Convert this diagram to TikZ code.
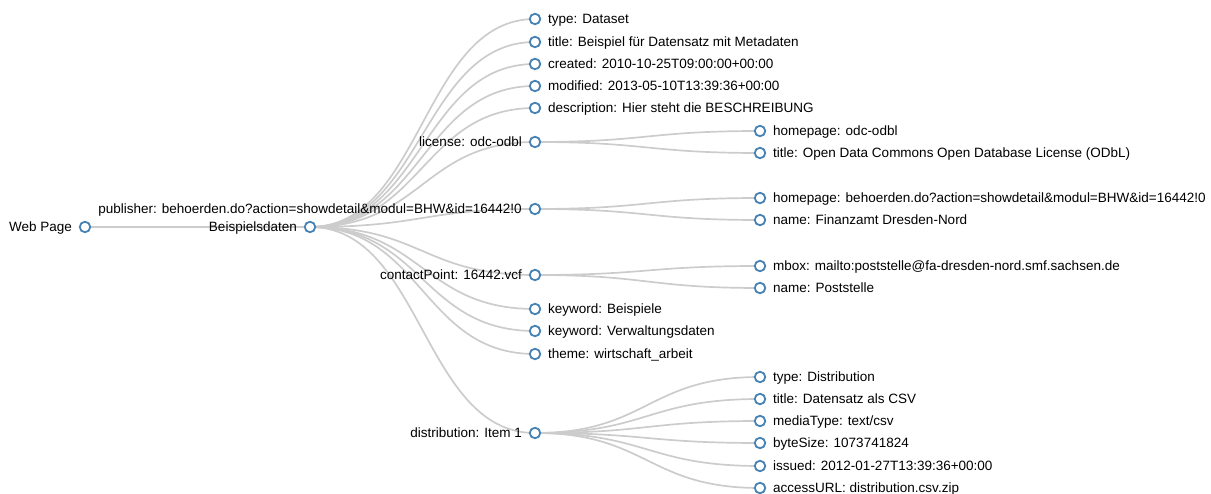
\documentclass[tikz,border=0pt]{standalone}
\usepackage{fontspec}
\setmainfont{Liberation Sans}
\usetikzlibrary{calc,backgrounds}
\definecolor{steel}{HTML}{4682B4}
\definecolor{linkc}{HTML}{CCCCCC}
\tikzset{
  dot/.style={circle,draw=steel,line width=1.8pt,fill=white,minimum size=10.5pt,inner sep=0pt},
  lbl/.style={inner sep=0pt,font=\fontsize{13.5pt}{16pt}\selectfont,text=black},
  link/.style={draw=linkc,line width=1.7pt}
}
\newcommand\rnode[4]{\node[dot] (#1) at (#2,#3) {};
  \node[lbl,anchor=base west] (#1-t) at ($(#1.center)+(13,4.7)$) {#4};}
\newcommand\lnode[4]{\node[dot] (#1) at (#2,#3) {};
  \node[lbl,anchor=base east] (#1-t) at ($(#1.center)+(-13,4.7)$) {#4};}
\newcommand\lnk[2]{\draw[link] let \p1=(#1.center), \p2=(#2.center) in
  (\p1) .. controls ({(\x1+\x2)/2},\y1) and ({(\x1+\x2)/2},\y2) .. (\p2);}
\begin{document}
\begin{tikzpicture}[x=1pt,y=-1pt]
\useasboundingbox (0,0) rectangle (1211,494);
\lnode{web}{85}{227}{Web Page}
\lnode{bsp}{310}{227}{Beispielsdaten}
\rnode{type}{535}{19}{type: Dataset}
\rnode{title}{535}{42}{title: Beispiel für Datensatz mit Metadaten}
\rnode{created}{535}{64}{created: 2010-10-25T09:00:00+00:00}
\rnode{modified}{535}{86}{modified: 2013-05-10T13:39:36+00:00}
\rnode{desc}{535}{108}{description: Hier steht die BESCHREIBUNG}
\lnode{lic}{535}{142}{license: odc-odbl}
\lnode{pub}{535}{209}{publisher: behoerden.do?action=showdetail\&modul=BHW\&id=16442!0}
\lnode{cp}{535}{275}{contactPoint: 16442.vcf}
\rnode{kw1}{535}{309}{keyword: Beispiele}
\rnode{kw2}{535}{331}{keyword: Verwaltungsdaten}
\rnode{theme}{535}{354}{theme: wirtschaft\_arbeit}
\lnode{dist}{535}{433}{distribution: Item 1}
\rnode{lhp}{760}{131}{homepage: odc-odbl}
\rnode{ltitle}{760}{153}{title: Open Data Commons Open Database License (ODbL)}
\rnode{php}{760}{198}{homepage: behoerden.do?action=showdetail\&modul=BHW\&id=16442!0}
\rnode{pname}{760}{220}{name: Finanzamt Dresden-Nord}
\rnode{cmbox}{760}{266}{mbox: mailto:poststelle@fa-dresden-nord.smf.sachsen.de}
\rnode{cname}{760}{288}{name: Poststelle}
\rnode{dtype}{760}{377}{type: Distribution}
\rnode{dtitle}{760}{399}{title: Datensatz als CSV}
\rnode{dmedia}{760}{421}{mediaType: text/csv}
\rnode{dsize}{760}{443}{byteSize: 1073741824}
\rnode{dissued}{760}{466}{issued: 2012-01-27T13:39:36+00:00}
\rnode{durl}{760}{488}{accessURL: distribution.csv.zip}
\begin{pgfonlayer}{background}
\lnk{web}{bsp}
\foreach \c in {type,title,created,modified,desc,lic,pub,cp,kw1,kw2,theme,dist} {\lnk{bsp}{\c}}
\lnk{lic}{lhp}\lnk{lic}{ltitle}
\lnk{pub}{php}\lnk{pub}{pname}
\lnk{cp}{cmbox}\lnk{cp}{cname}
\foreach \c in {dtype,dtitle,dmedia,dsize,dissued,durl} {\lnk{dist}{\c}}
\end{pgfonlayer}
\end{tikzpicture}
\end{document}
